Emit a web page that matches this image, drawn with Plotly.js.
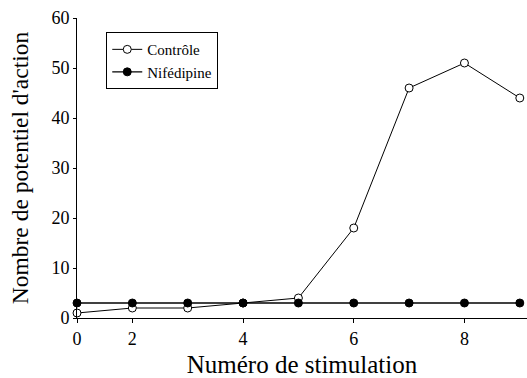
<!DOCTYPE html>
<html>
<head>
<meta charset="utf-8">
<script src="https://cdn.plot.ly/plotly-3.0.1.min.js"></script>
<style>html,body{margin:0;padding:0;background:#fff;}</style>
</head>
<body>
<div id="chart"></div>
<script>
// Point positions (evenly spaced stimulation index) and tick labels
const positions = [0, 1, 2, 3, 4, 5, 6, 7, 8];
const tickPositions = [0, 1, 3, 5, 7];
const tickLabels = ["0", "2", "4", "6", "8"];
const controle = [1, 2, 2, 3, 4, 18, 46, 51, 44];
const nifedipine = [3, 3, 3, 3, 3, 3, 3, 3, 3];
const seriesNames = ["Contrôle", "Nifédipine"];

const serifFamily = "Liberation Serif";

const traces = [
  {
    x: positions, y: controle, name: seriesNames[0], type: "scatter", mode: "lines+markers",
    line: {color: "#000", width: 1},
    marker: {symbol: "circle", size: 8, color: "#fff", line: {color: "#000", width: 1}},
    cliponaxis: false
  },
  {
    x: positions, y: nifedipine, name: seriesNames[1], type: "scatter", mode: "lines+markers",
    line: {color: "#000", width: 1.3},
    marker: {symbol: "circle", size: 8, color: "#000", line: {color: "#000", width: 1}},
    cliponaxis: false
  }
];

const layout = {
  width: 527, height: 378,
  margin: {l: 77, r: 0, t: 18, b: 60},
  paper_bgcolor: "#fff", plot_bgcolor: "#fff",
  font: {family: serifFamily, color: "#000", size: 16},
  showlegend: true,
  legend: {
    x: 0.065, y: 0.953, xanchor: "left", yanchor: "top",
    bordercolor: "#000", borderwidth: 1, bgcolor: "#fff",
    font: {family: serifFamily, size: 15, color: "#000"},
    itemwidth: 30, tracegroupgap: 0
  },
  xaxis: {
    range: [0, 8.13], tickmode: "array", tickvals: tickPositions, ticktext: tickLabels,
    showline: true, linecolor: "#000", linewidth: 1, showgrid: false, zeroline: false,
    ticks: "outside", ticklen: 4, tickcolor: "#000",
    tickfont: {family: serifFamily, size: 18, color: "#000"},
    title: {text: "Numéro de stimulation", font: {family: serifFamily, size: 25, color: "#000"}, standoff: 9}
  },
  yaxis: {
    range: [0, 60], tickmode: "array", tickvals: [0, 10, 20, 30, 40, 50, 60],
    showline: true, linecolor: "#000", linewidth: 1, showgrid: false, zeroline: false,
    ticks: "outside", ticklen: 3, tickcolor: "#000",
    tickfont: {family: serifFamily, size: 18, color: "#000"},
    title: {text: "Nombre de potentiel d'action", font: {family: serifFamily, size: 23.5, color: "#000"}, standoff: 16}
  }
};

Plotly.newPlot("chart", traces, layout, {displayModeBar: false});
</script>
</body>
</html>
